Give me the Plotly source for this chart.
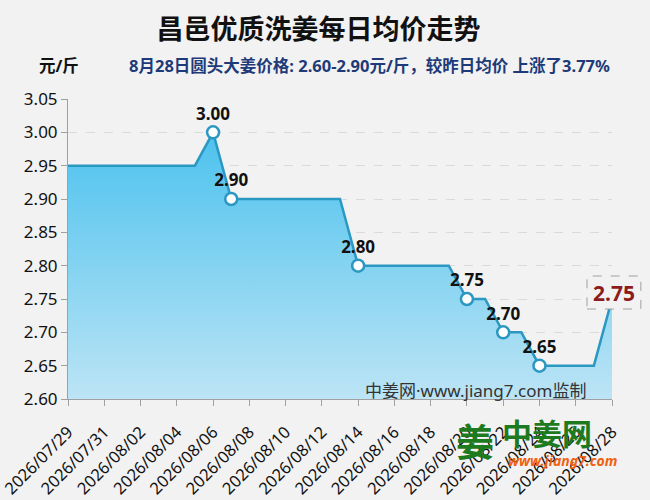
import plotly.graph_objects as go

dates = ['2026/07/29', '2026/07/30', '2026/07/31', '2026/08/01', '2026/08/02',
         '2026/08/03', '2026/08/04', '2026/08/05', '2026/08/06', '2026/08/07',
         '2026/08/08', '2026/08/09', '2026/08/10', '2026/08/11', '2026/08/12',
         '2026/08/13', '2026/08/14', '2026/08/15', '2026/08/16', '2026/08/17',
         '2026/08/18', '2026/08/19', '2026/08/20', '2026/08/21', '2026/08/22',
         '2026/08/23', '2026/08/24', '2026/08/25', '2026/08/26', '2026/08/27',
         '2026/08/28']
prices = [2.95, 2.95, 2.95, 2.95, 2.95, 2.95, 2.95, 2.95, 3.00, 2.90,
          2.90, 2.90, 2.90, 2.90, 2.90, 2.90, 2.80, 2.80, 2.80, 2.80,
          2.80, 2.80, 2.75, 2.75, 2.70, 2.70, 2.65, 2.65, 2.65, 2.65,
          2.75]
# points where the price changed, shown with a marker and label
marked_dates = ['2026/08/06', '2026/08/07', '2026/08/14', '2026/08/20',
                '2026/08/22', '2026/08/24']
tick_dates = dates[::2]
y_ticks = [2.60, 2.65, 2.70, 2.75, 2.80, 2.85, 2.90, 2.95, 3.00, 3.05]

title = '昌邑优质洗姜每日均价走势'
subtitle = '8月28日圆头大姜价格: 2.60-2.90元/斤，较昨日均价 上涨了3.77%'
unit = '元/斤'

font = 'Noto Sans, Noto Sans CJK SC, sans-serif'
line_color = '#2b98c2'

marked_prices = [prices[dates.index(d)] for d in marked_dates]

fig = go.Figure()
fig.add_trace(go.Scatter(
    x=dates, y=prices, mode='lines',
    line=dict(color=line_color, width=2.5),
    fill='tozeroy',
    fillgradient=dict(type='vertical', start=2.60, stop=3.00,
                      colorscale=[[0, '#bce4f5'], [1, '#4cc2ee']]),
    hoverinfo='x+y', showlegend=False))

fig.add_trace(go.Scatter(
    x=marked_dates, y=marked_prices, mode='markers+text',
    marker=dict(size=12, color='white', line=dict(color=line_color, width=2.5)),
    text=[f'{v:.2f}' for v in marked_prices],
    textposition='top center',
    textfont=dict(family=font, size=17, color='#111', weight='bold'),
    cliponaxis=False, showlegend=False))

fig.update_layout(
    width=650, height=500,
    paper_bgcolor='#f2f2f2', plot_bgcolor='#f2f2f2',
    margin=dict(l=68, r=38, t=99, b=101, autoexpand=False),
    font=dict(family=font, color='#111'),
    title=dict(text=title, x=0.49, xanchor='center', y=0.94, yanchor='middle',
               font=dict(size=27, color='#111', weight='bold')),
    xaxis=dict(type='category', range=[0, len(dates) - 1], automargin=False,
               tickmode='array', tickvals=tick_dates, ticktext=tick_dates,
               tickangle=-45, tickfont=dict(size=16.5, color='#111'),
               ticklabelstandoff=10,
               showgrid=False, showline=True, linecolor='#a0a0a0',
               ticks='outside', ticklen=6, tickcolor='#a0a0a0'),
    yaxis=dict(range=[2.60, 3.05], tickmode='array', tickvals=y_ticks,
               automargin=False,
               tickformat='.2f', tickfont=dict(size=17, color='#111'),
               showgrid=True, gridcolor='#dadada', griddash='dash',
               showline=True, linecolor='#a0a0a0', zeroline=False,
               ticks='outside', ticklen=6, tickcolor='#a0a0a0'),
)

fig.add_annotation(text=unit, xref='paper', yref='paper', x=-0.057, y=1.112,
                   xanchor='left', yanchor='middle', showarrow=False,
                   font=dict(size=16.5, color='#111', weight='bold'))
fig.add_annotation(text=subtitle, xref='paper', yref='paper', x=1.0, y=1.112,
                   xanchor='right', yanchor='middle', showarrow=False,
                   font=dict(size=16.5, color='#1e3a78', weight='bold'))

fig.add_annotation(text='中姜网·www.jiang7.com监制', xref='paper', yref='paper',
                   x=0.955, y=0.03, xanchor='right', yanchor='middle',
                   showarrow=False, font=dict(size=17, color='#333'))

# last value label with dashed box
fig.add_shape(type='rect', xref='paper', yref='paper',
              x0=0.954, x1=1.053, y0=0.30, y1=0.41,
              line=dict(color='#a0a0a0', width=1, dash='dash'),
              fillcolor='#f2f2f2', layer='above')
fig.add_annotation(text=f'{prices[-1]:.2f}', xref='paper', yref='paper',
                   x=1.0035, y=0.355, xanchor='center', yanchor='middle',
                   showarrow=False,
                   font=dict(size=21, color='#8e1b1b', weight='bold'))

# site logo
fig.add_annotation(text='姜', xref='paper', yref='paper', x=0.71, y=-0.14,
                   xanchor='left', yanchor='middle', showarrow=False,
                   font=dict(size=38, color='#1e7a1e', weight='bold'))
fig.add_annotation(text='中姜网', xref='paper', yref='paper', x=0.795, y=-0.115,
                   xanchor='left', yanchor='middle', showarrow=False,
                   font=dict(size=30, color='#1e7a1e', weight='bold'))
fig.add_annotation(text='<i>www.jiang7.com</i>', xref='paper', yref='paper',
                   x=0.805, y=-0.205, xanchor='left', yanchor='middle',
                   showarrow=False,
                   font=dict(size=14, color='#f06010', weight='bold'))

# drop the default page margin so the chart fills the window
fig.write_html('out.html', config={'displayModeBar': False},
               post_script="document.body.style.margin = '0';")
